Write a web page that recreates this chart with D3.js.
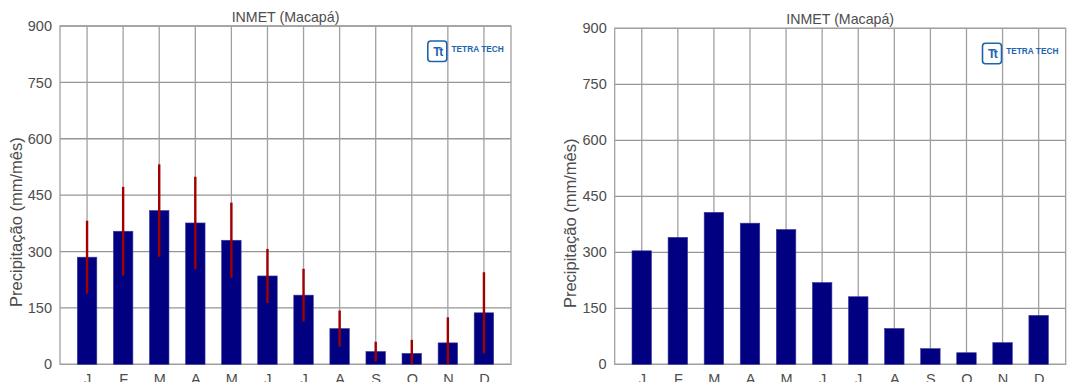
<!DOCTYPE html>
<html>
<head>
<meta charset="utf-8">
<script src="https://cdn.jsdelivr.net/npm/d3@7"></script>
<style>
  html, body { margin: 0; padding: 0; background: #fff; }
  svg { display: block; font-family: "Liberation Sans", Arial, sans-serif; }
</style>
</head>
<body>
<svg id="chart" width="1089" height="382"></svg>
<script>
// Monthly precipitation, INMET station at Macapá
const months = ["J", "F", "M", "A", "M", "J", "J", "A", "S", "O", "N", "D"];
const meanLeft = [285, 354, 409, 376, 330, 235, 184, 95, 34, 29, 57, 137];
const sdLeft = [97, 118, 123, 123, 100, 72, 70, 48, 26, 36, 68, 108];
const meanRight = [304, 340, 407, 378, 361, 219, 181, 96, 42, 31, 58, 131];
const yTicks = [0, 150, 300, 450, 600, 750, 900];
const chartTitle = "INMET (Macapá)";
const yTitle = "Precipitação (mm/mês)";

const svg = d3.select("#chart");

function drawPanel(opt) {
  const g = svg.append("g");
  const x = d3.scalePoint().domain(d3.range(months.length))
    .range([opt.left, opt.right]).padding(0.75);
  const y = d3.scaleLinear().domain([0, 900]).range([opt.bottom, opt.top]);
  const barW = 19.5;

  // horizontal grid
  g.append("g").selectAll("line").data(yTicks).join("line")
    .attr("x1", opt.left).attr("x2", opt.right)
    .attr("y1", d => y(d)).attr("y2", d => y(d))
    .attr("stroke", "#969696").attr("stroke-width", 1.3);

  // vertical grid through each month
  g.append("g").selectAll("line").data(d3.range(months.length)).join("line")
    .attr("x1", d => x(d)).attr("x2", d => x(d))
    .attr("y1", opt.top).attr("y2", opt.bottom)
    .attr("stroke", "#a0a0a0").attr("stroke-width", 1.3);

  // frame
  g.append("rect")
    .attr("x", opt.left).attr("y", opt.top)
    .attr("width", opt.right - opt.left).attr("height", opt.bottom - opt.top)
    .attr("fill", "none").attr("stroke", "#a0a0a0").attr("stroke-width", 1.3);

  // bars
  g.append("g").selectAll("rect").data(opt.values).join("rect")
    .attr("x", (d, i) => x(i) - barW / 2)
    .attr("y", d => y(d))
    .attr("width", barW)
    .attr("height", d => y(0) - y(d))
    .attr("fill", "#000080")
    .attr("stroke", "#3a3a9a").attr("stroke-width", 0.6);

  // error bars (mean ± sd, floored at zero)
  if (opt.errors) {
    g.append("g").selectAll("line").data(opt.values).join("line")
      .attr("x1", (d, i) => x(i)).attr("x2", (d, i) => x(i))
      .attr("y1", (d, i) => y(d + opt.errors[i]))
      .attr("y2", (d, i) => y(Math.max(0, d - opt.errors[i])))
      .attr("stroke", "#a00000").attr("stroke-width", 2.4);
  }

  // y tick labels
  const yAxis = d3.axisLeft(y).tickValues(yTicks).tickSize(0).tickPadding(8);
  const ya = g.append("g").attr("transform", `translate(${opt.left},0)`).call(yAxis);
  ya.select(".domain").remove();
  ya.selectAll("text").attr("font-size", 14.5).attr("fill", "#4d4d4d")
    .attr("font-family", "Liberation Sans, Arial, sans-serif");

  // x tick labels (the row sits at the lower edge of the figure)
  const xAxis = d3.axisBottom(x).tickFormat(i => months[i]).tickSize(0).tickPadding(9);
  const xa = g.append("g").attr("transform", `translate(0,${opt.bottom})`).call(xAxis);
  xa.select(".domain").remove();
  xa.selectAll("text").attr("font-size", 14.5).attr("fill", "#4d4d4d")
    .attr("font-family", "Liberation Sans, Arial, sans-serif");

  // title
  g.append("text")
    .attr("x", (opt.left + opt.right) / 2).attr("y", opt.top - 4.5)
    .attr("text-anchor", "middle").attr("font-size", 14.2).attr("fill", "#4d4d4d")
    .text(chartTitle);

  // y axis title
  g.append("text")
    .attr("transform", `translate(${opt.yTitleX},${(opt.top + opt.bottom) / 2 + 27}) rotate(-90)`)
    .attr("text-anchor", "middle").attr("font-size", 16.5).attr("fill", "#4d4d4d")
    .text(yTitle);

  // Tetra Tech logo
  const lg = g.append("g").attr("transform", `translate(${opt.right - 84},${opt.top + 15})`);
  lg.append("rect").attr("x", 0.8).attr("y", 0).attr("width", 19).attr("height", 20.5)
    .attr("rx", 3).attr("fill", "#fff").attr("stroke", "#1e63ad").attr("stroke-width", 1.6);
  lg.append("text").attr("x", 10.5).attr("y", 15).attr("text-anchor", "middle")
    .attr("font-size", 12).attr("font-weight", "bold").attr("fill", "#1e63ad")
    .attr("letter-spacing", -1.5).text("Tt");
  lg.append("text").attr("x", 24.5).attr("y", 11)
    .attr("font-size", 8.3).attr("font-weight", "bold").attr("fill", "#1e63ad")
    .text("TETRA TECH");
}

drawPanel({ left: 60, right: 511, top: 26, bottom: 364.3, values: meanLeft, errors: sdLeft, yTitleX: 22 });
drawPanel({ left: 614.7, right: 1065.7, top: 28.3, bottom: 364.3, values: meanRight, errors: null, yTitleX: 576 });
</script>
</body>
</html>
